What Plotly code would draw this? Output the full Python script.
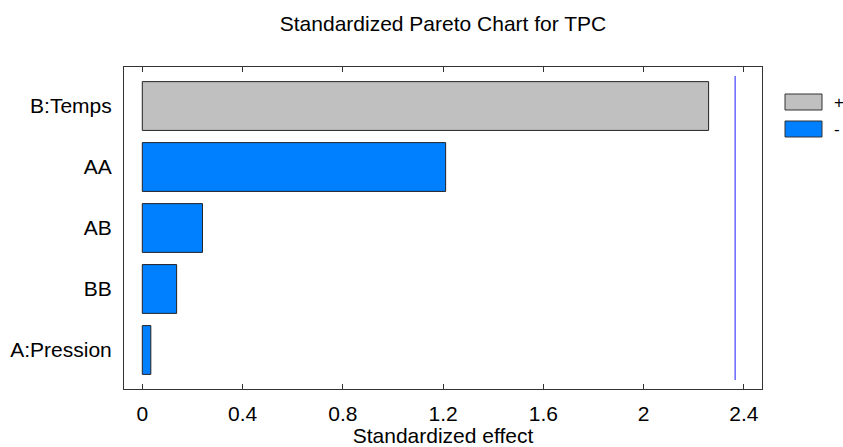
import plotly.graph_objects as go

# ---- data ----
factors = ["B:Temps", "AA", "AB", "BB", "A:Pression"]
effects = [2.259, 1.210, 0.240, 0.137, 0.034]
signs = ["+", "-", "-", "-", "-"]
critical_value = 2.365
x_ticks = [0, 0.4, 0.8, 1.2, 1.6, 2.0, 2.4]
x_tick_labels = ["0", "0.4", "0.8", "1.2", "1.6", "2", "2.4"]
legend_labels = ["+", "-"]

# ---- style ----
W, H = 843, 447
ML, MR, MT, MB = 124, 81, 67, 58
FONT = "Liberation Sans, Arial, sans-serif"
sign_colors = {"+": "#C0C0C0", "-": "#0080FF"}
frame_col = "#333333"

def px_x(px):
    return (px - ML) / (W - ML - MR)

def px_y(py):
    return (H - MB - py) / (H - MT - MB)

fig = go.Figure()
fig.add_trace(go.Bar(
    y=factors,
    x=effects,
    orientation="h",
    marker=dict(color=[sign_colors[s] for s in signs],
                line=dict(color="#222222", width=1)),
    showlegend=False,
    hoverinfo="x+y",
))

# critical value reference line
fig.add_shape(type="line", xref="x", yref="paper",
              x0=critical_value, x1=critical_value,
              y0=px_y(380), y1=px_y(76),
              line=dict(color="#7070FF", width=1.6))

# legend drawn as boxes + labels
box_tops = [94, 121]
for lab, top in zip(legend_labels, box_tops):
    fig.add_shape(type="rect", xref="paper", yref="paper",
                  x0=px_x(785), x1=px_x(822), y0=px_y(top + 16), y1=px_y(top),
                  fillcolor=sign_colors[lab], line=dict(color=frame_col, width=1))
    fig.add_annotation(x=px_x(832), y=px_y(top + 8), xref="paper", yref="paper",
                       text=lab, showarrow=False, xanchor="left", yanchor="middle",
                       font=dict(size=17, color="#000000", family=FONT))

fig.update_layout(
    width=W, height=H,
    margin=dict(l=ML, r=MR, t=MT, b=MB),
    paper_bgcolor="white", plot_bgcolor="white",
    font=dict(family=FONT, size=21, color="#000000"),
    bargap=0.2,
    title=dict(text="Standardized Pareto Chart for TPC", x=0.5, xref="paper",
               y=1 - 24 / H, yref="container", xanchor="center", yanchor="middle",
               font=dict(size=21, family=FONT, color="#000000")),
)
fig.update_xaxes(
    automargin=False,
    range=[-0.073, 2.472],
    tickvals=x_ticks, ticktext=x_tick_labels,
    ticks="inside", ticklen=5, tickcolor=frame_col, tickwidth=1,
    showline=True, linecolor=frame_col, linewidth=1, mirror="ticks",
    showgrid=False, zeroline=False,
    ticklabelstandoff=6,
    title=dict(text="Standardized effect", standoff=12, font=dict(size=21)),
)
fig.update_yaxes(
    automargin=False,
    categoryorder="array", categoryarray=factors[::-1],
    range=[-0.64, 4.64],
    showline=True, linecolor=frame_col, linewidth=1, mirror=True,
    ticks="", showgrid=False, zeroline=False,
    ticklabelstandoff=7,
)

fig.write_html("out.html",
               config={"displayModeBar": False},
               post_script="document.body.style.margin='0';document.body.style.overflow='hidden';")
